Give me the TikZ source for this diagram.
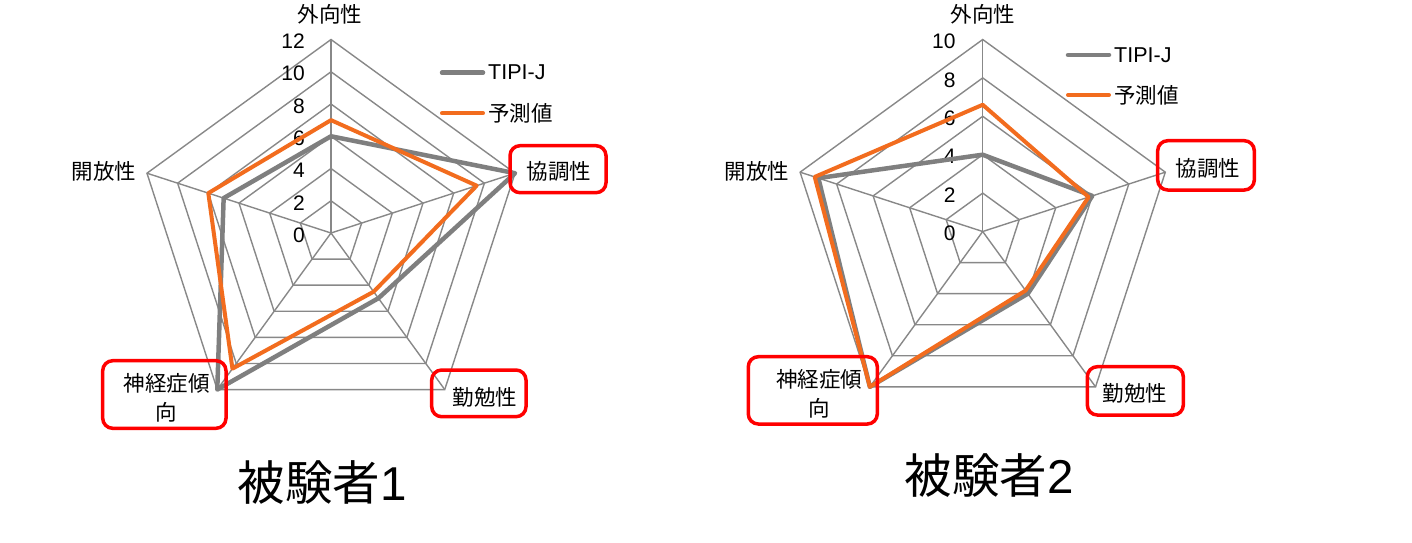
\documentclass[tikz,border=0pt]{standalone}
\usepackage{fontspec}
\setmainfont{Liberation Sans}
\newfontfamily\jp{Noto Sans CJK JP}
\usetikzlibrary{positioning}
\definecolor{gridgray}{RGB}{136,136,136}
\definecolor{tipigray}{RGB}{127,127,127}
\definecolor{predorange}{RGB}{242,108,30}
\definecolor{markred}{RGB}{255,0,0}

\tikzset{
  gridline/.style={draw=gridgray, line width=1.4pt},
  tipiline/.style={draw=tipigray, line width=4.5pt, line join=round},
  predline/.style={draw=predorange, line width=4pt, line join=round},
  axislabel/.style={font=\jp\fontsize{21.5}{29}\selectfont, inner sep=0pt, align=center},
  ticklabel/.style={font=\fontsize{21}{24}\selectfont, anchor=east, inner sep=0pt},
  legendlabel/.style={font=\fontsize{21.5}{24}\selectfont, anchor=west, inner sep=0pt},
  markbox/.style={draw=markred, line width=3.5pt, rounded corners=10pt},
  titlelabel/.style={font=\fontsize{47.5}{52}\selectfont, inner sep=0pt}
}

\begin{document}
\begin{tikzpicture}[x=1pt, y=-1pt]
\useasboundingbox (0,0) rectangle (1412,542);

% subject 1 radar chart
\begin{scope}[shift={(331,233)}, x=16.125pt, y=16.125pt]
  \foreach \r in {2,4,...,12}
    \draw[gridline] (90:\r) -- (18:\r) -- (-54:\r) -- (-126:\r) -- (162:\r) -- cycle;
  \foreach \a in {90,18,-54,-126,162}
    \draw[gridline] (0,0) -- (\a:12);
  \foreach \v in {0,2,...,12}
    \node[ticklabel] (c1tick\v) at ([xshift=-26pt, yshift=-2pt]0,\v) {\v};
  \draw[tipiline] (90:6) -- (18:12) -- (-54:5) -- (-126:12) -- (162:7) -- cycle;
  \draw[predline] (90:7) -- (18:9.5) -- (-54:4.5) -- (-126:10.4) -- (162:8) -- cycle;
\end{scope}

% subject 1 axis labels
\node[axislabel] (c1ext) at (330,14) {外向性};
\node[axislabel] (c1opn) at (104,171) {開放性};
\node[axislabel] (c1agr) at (559,171) {協調性};
\node[axislabel] (c1con) at (485,397) {勤勉性};
\node[axislabel] (c1neu) at (166.7,398) {神経症傾\\向};
\draw[markbox] (510,145.7) rectangle (606,192.7);
\draw[markbox] (431.7,370) rectangle (526,416.7);
\draw[markbox] (102.7,360.7) rectangle (226,428.3);

% subject 1 legend
\coordinate (c1tipi) at (442,72.7);
\draw[tipiline, line cap=round] (c1tipi) -- ++(41,0) coordinate (c1tipiend);
\node[legendlabel, right=5pt of c1tipiend] (c1tipilab) {TIPI-J};
\coordinate (c1pred) at (442,113.3);
\draw[predline, line cap=round] (c1pred) -- ++(41,0) coordinate (c1predend);
\node[legendlabel, right=5pt of c1predend] (c1predlab) {\jp 予測値};

\node[titlelabel] (c1title) at (322,483) {{\jp 被験者}1};

% subject 2 radar chart
\begin{scope}[shift={(982.7,231.5)}, x=19.2pt, y=19.2pt]
  \foreach \r in {2,4,...,10}
    \draw[gridline] (90:\r) -- (18:\r) -- (-54:\r) -- (-126:\r) -- (162:\r) -- cycle;
  \foreach \a in {90,18,-54,-126,162}
    \draw[gridline] (0,0) -- (\a:10);
  \foreach \v in {0,2,...,10}
    \node[ticklabel] (c2tick\v) at ([xshift=-27pt, yshift=-2pt]0,\v) {\v};
  \draw[tipiline] (90:4) -- (18:6) -- (-54:4) -- (-126:10) -- (162:9) -- cycle;
  \draw[predline] (90:6.6) -- (18:5.8) -- (-54:3.8) -- (-126:10) -- (162:9.2) -- cycle;
\end{scope}

% subject 2 axis labels
\node[axislabel] (c2ext) at (983,14) {外向性};
\node[axislabel] (c2opn) at (757,171) {開放性};
\node[axislabel] (c2agr) at (1208,168.5) {協調性};
\node[axislabel] (c2con) at (1135,393) {勤勉性};
\node[axislabel] (c2neu) at (819,394) {神経症傾\\向};
\draw[markbox] (1157.7,140.7) rectangle (1254.3,190);
\draw[markbox] (1087.3,366.7) rectangle (1183.3,415);
\draw[markbox] (748.3,356.7) rectangle (877.3,424);

% subject 2 legend
\coordinate (c2tipi) at (1068,55);
\draw[tipiline, line cap=round] (c2tipi) -- ++(41,0) coordinate (c2tipiend);
\node[legendlabel, right=5pt of c2tipiend] (c2tipilab) {TIPI-J};
\coordinate (c2pred) at (1068,95);
\draw[predline, line cap=round] (c2pred) -- ++(41,0) coordinate (c2predend);
\node[legendlabel, right=5pt of c2predend] (c2predlab) {\jp 予測値};

\node[titlelabel] (c2title) at (989,476) {{\jp 被験者}2};
\end{tikzpicture}
\end{document}
